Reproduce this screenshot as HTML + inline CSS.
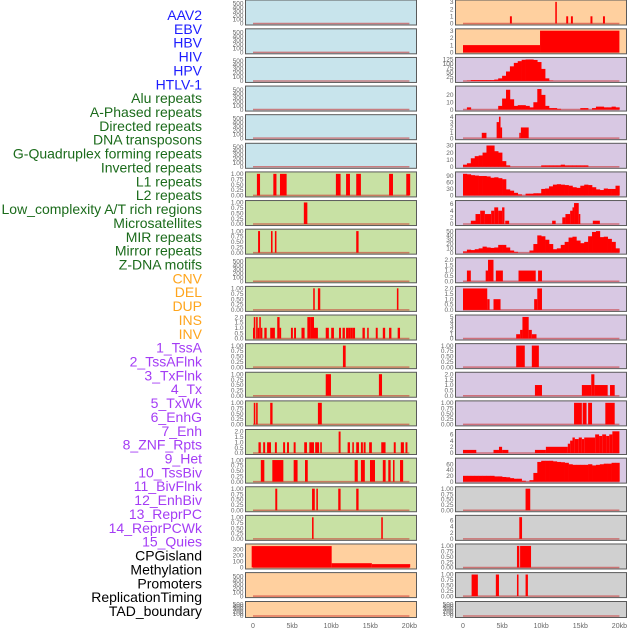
<!DOCTYPE html>
<html><head><meta charset="utf-8"><style>
body{margin:0;background:#fff;}
svg{display:block;font-family:"Liberation Sans",sans-serif;}
</style></head><body>
<svg id="chart" width="630" height="630" viewBox="0 0 630 630" xmlns="http://www.w3.org/2000/svg"></svg>
<script>
// ---- labels ----
const labelNames = ["AAV2","EBV","HBV","HIV","HPV","HTLV-1","Alu repeats","A-Phased repeats","Directed repeats","DNA transposons","G-Quadruplex forming repeats","Inverted repeats","L1 repeats","L2 repeats","Low_complexity A/T rich regions","Microsatellites","MIR repeats","Mirror repeats","Z-DNA motifs","CNV","DEL","DUP","INS","INV","1_TssA","2_TssAFlnk","3_TxFlnk","4_Tx","5_TxWk","6_EnhG","7_Enh","8_ZNF_Rpts","9_Het","10_TssBiv","11_BivFlnk","12_EnhBiv","13_ReprPC","14_ReprPCWk","15_Quies","CPGisland","Methylation","Promoters","ReplicationTiming","TAD_boundary"];
const labelGroups = [0,0,0,0,0,0,1,1,1,1,1,1,1,1,1,1,1,1,1,2,2,2,2,2,3,3,3,3,3,3,3,3,3,3,3,3,3,3,3,4,4,4,4,4];
const xTickValues = [0,5,10,15,20];
const xTickLabels = ["0","5kb","10kb","15kb","20kb"];

// ---- data: segments [startKb, endKb, value]; profiles are 0.5kb bins ----
const R0_bars = [[6.0,6.25,1],[11.8,12.0,3],[13.2,13.45,1],[13.8,14.05,1],[16.3,16.55,1],[17.9,18.15,1]];
const R1_bars = [[0,9.85,1],[9.85,20,3]];
const R2_vals = [0,2,5,5,5,5,5,5,8,15,30,55,85,105,115,123,125,125,122,110,70,15,2,0,0,0,0,0,0,0,0,0,0,0,0,0,0,0,0,0];
const R3_vals = [0,3,0,0,0,0,0,0,0,5,15,27,14,5,6,6,5,3,10,28,20,5,2,2,1,0,0,0,0,0,2,2,0,2,4,4,3,3,4,3];
const R4_bars = [[2.4,3.0,1],[4.3,4.6,3],[4.6,4.8,4],[4.8,5.0,2],[7.2,7.4,1],[7.4,8.4,2]];
const R5_vals = [3,5,12,15,16,20,30,30,22,20,8,2,0,0,0,0,0,0,0,0,2,2,2,2,2,3,2,2,2,2,2,2,0,0,0,0,0,0,0,0];
const R6L_bars = [[0.5,0.9,1],[2.6,3.0,1],[3.45,4.3,1],[10.6,11.2,1],[11.9,12.4,1],[13.2,13.8,1],[17.4,17.9,1],[19.6,20.1,1]];
const R6_vals = [100,98,94,92,90,90,88,82,84,80,75,28,22,12,5,0,8,8,10,10,30,32,42,50,52,50,48,45,38,35,45,50,48,38,28,25,32,30,30,45];
const R7L_bars = [[6.5,6.95,1]];
const R7_bars = [[1.0,1.6,1],[1.6,2.2,3],[2.2,2.8,4],[2.8,3.6,3],[3.6,4.0,4],[4.0,4.5,5],[4.5,5.0,4],[5.0,5.3,5],[5.4,5.9,1],[11.4,11.85,1],[12.7,13.1,2],[13.1,13.7,3],[13.7,14.0,4],[14.0,14.2,5],[14.2,14.8,6.3],[14.8,15.0,3],[16.6,17.5,1]];
const R8L_bars = [[0.65,0.9,1],[2.3,2.5,1],[2.8,3.0,1],[13.2,13.5,1]];
const R8_vals = [3,7,6,8,10,14,12,11,12,18,18,12,5,2,0,0,0,5,20,40,38,30,20,8,10,18,25,35,37,28,22,25,38,48,50,36,37,32,25,10];
const R9_bars = [[0.5,1.0,1],[2.9,3.2,1],[3.2,3.9,2],[4.2,5.1,1],[7.1,9.3,1],[9.6,10.1,1]];
const R10L_bars = [[7.7,7.9,1],[8.3,8.6,1],[18.4,18.6,1]];
const R10_bars = [[0,3.1,2],[3.1,3.4,1],[3.9,4.8,1],[9.1,9.5,1],[9.5,10.1,2]];
const R11L_bars = [[0,0.25,1],[0.1,0.3,2],[0.4,0.6,2],[0.6,0.8,1],[0.8,1.0,2],[1.0,1.2,1],[1.45,1.75,1],[2.2,2.8,1],[3.1,3.4,2],[3.4,3.6,1],[4.85,5.1,1],[5.25,5.5,1],[6.2,6.6,1],[6.95,7.4,2],[7.4,7.8,2],[7.8,8.3,1],[9.3,9.7,1],[10.0,10.35,1],[11.0,11.25,1],[11.45,11.75,1],[11.9,12.2,1],[12.2,12.5,1],[12.5,12.7,1],[12.7,13.05,1],[14.0,14.3,1],[14.6,14.8,1],[15.7,15.95,1],[16.6,16.9,1],[17.4,17.7,1],[18.5,18.8,1]];
const R11_bars = [[6.8,7.3,1],[7.3,7.6,2],[7.6,8.4,5],[8.4,8.8,2],[8.8,9.4,1]];
const R12L_bars = [[11.5,11.85,1]];
const R12_bars = [[6.8,7.9,1],[8.8,9.7,1]];
const R13L_bars = [[9.3,9.97,1],[16.1,16.5,1]];
const R13_bars = [[9.2,10.1,1],[15.2,16.4,1],[16.4,16.8,2],[16.8,18.5,1],[18.8,19.4,1]];
const R14L_bars = [[0.1,0.3,1],[0.4,0.6,1],[2.2,2.5,1],[8.3,8.8,1]];
const R14_bars = [[14.2,15.2,1],[15.3,15.8,1],[16.0,16.5,1],[18.2,19.4,1]];
const R15L_bars = [[0.7,1.0,1],[1.3,1.55,1],[1.8,2.3,1],[2.8,3.05,1],[3.85,4.1,1],[4.35,4.6,1],[5.2,5.45,1],[6.55,6.9,1],[7.2,7.8,1],[7.95,8.45,1],[8.6,8.8,1],[10.95,11.2,2],[12.1,12.4,1],[12.7,12.9,1],[13.2,13.55,1],[13.8,14.05,1],[14.15,14.4,1],[14.85,15.2,1],[16.4,16.95,1],[18.0,18.25,1],[18.9,19.3,1],[19.5,19.75,1]];
const R15_bars = [[0,1.7,1],[3.9,4.6,1],[4.6,5.0,2],[5.0,5.8,1],[9.2,10.6,1],[10.6,13.4,2],[13.4,13.7,3],[13.7,14.0,4],[14.0,14.3,5],[14.3,14.8,4.5],[14.8,15.2,5],[15.2,15.5,4.5],[15.5,16.9,5],[16.9,17.4,6],[17.4,17.8,5.5],[17.8,18.3,6],[18.3,18.7,5.5],[18.7,19.1,6],[19.1,20,7]];
const R16L_bars = [[1.0,1.45,1],[2.47,3.88,1],[5.2,5.7,1],[6.65,7.0,1],[13.0,13.4,1],[13.8,14.3,1],[14.96,15.6,1],[16.6,16.96,1],[17.3,17.6,1],[17.9,18.1,1],[18.8,19.2,1]];
const R16_vals = [20,20,20,20,20,20,20,20,18,18,16,15,12,10,10,3,0,5,30,68,72,72,72,70,68,67,65,60,58,58,58,58,60,56,58,60,62,62,65,65];
const R17L_bars = [[2.85,3.1,1],[7.55,7.9,1],[8.1,8.3,1],[10.9,11.2,1],[13.2,13.5,1]];
const R17_bars = [[8.0,8.6,1]];
const R18L_bars = [[7.55,7.75,1],[16.4,16.6,1]];
const R18_bars = [[7.2,7.55,7]];
const R19L_bars = [[-0.17,10.06,350],[10.06,15.2,70],[15.2,20.1,55]];
const R19_bars = [[6.9,7.2,1],[7.3,8.7,1]];
const R20_bars = [[1.1,1.9,1],[4.2,4.6,1],[6.9,7.1,1],[8.0,8.3,1]];

// ---- panel configuration ----
const BG = {blue:"#c8e4ec",green:"#c8e1a4",orange:"#ffd09f",purple:"#d8c8e3",gray:"#d0d0d0"};
const T500 = {max:550,ticks:[0,100,200,300,400,500],fmt:0};
const T1 = {max:1.02,ticks:[0,0.25,0.5,0.75,1],fmt:2};
const T2 = {max:2.05,ticks:[0,0.5,1,1.5,2],fmt:1};
function lp(row,bg,ax,bars,vals,name){return {row,col:0,bg,ax,bars,vals,name};}
function rp(row,bg,ax,bars,vals,name){return {row,col:1,bg,ax,bars,vals,name};}
const panels = [
 lp(0,"blue",T500,null,null,"aav2-track"), rp(0,"orange",{max:3.05,ticks:[0,1,2,3],fmt:0},R0_bars,null,"aav2-right-track"),
 lp(1,"blue",T500,null,null,"ebv-track"), rp(1,"orange",{max:3.05,ticks:[0,1,2,3],fmt:0},R1_bars,null,"ebv-right-track"),
 lp(2,"blue",T500,null,null,"hbv-track"), rp(2,"purple",{max:128,ticks:[0,25,50,75,100,125],fmt:0},null,R2_vals,"hbv-right-track"),
 lp(3,"blue",T500,null,null,"hiv-track"), rp(3,"purple",{max:30,ticks:[0,10,20],fmt:0},null,R3_vals,"hiv-right-track"),
 lp(4,"blue",T500,null,null,"hpv-track"), rp(4,"purple",{max:4.1,ticks:[0,1,2,3,4],fmt:0},R4_bars,null,"hpv-right-track"),
 lp(5,"blue",T500,null,null,"htlv-track"), rp(5,"purple",{max:31,ticks:[0,10,20,30],fmt:0},null,R5_vals,"htlv-right-track"),
 lp(6,"green",T1,R6L_bars,null,"alu-track"), rp(6,"purple",{max:102,ticks:[0,30,60,90],fmt:0},null,R6_vals,"alu-right-track"),
 lp(7,"green",T1,R7L_bars,null,"aphased-track"), rp(7,"purple",{max:6.6,ticks:[0,2,4,6],fmt:0},R7_bars,null,"aphased-right-track"),
 lp(8,"green",T1,R8L_bars,null,"directed-track"), rp(8,"purple",{max:51,ticks:[0,10,20,30,40,50],fmt:0},null,R8_vals,"directed-right-track"),
 lp(9,"green",T500,null,null,"dna-transposons-track"), rp(9,"purple",T2,R9_bars,null,"dna-transposons-right-track"),
 lp(10,"green",T1,R10L_bars,null,"gquad-track"), rp(10,"purple",T2,R10_bars,null,"gquad-right-track"),
 lp(11,"green",T2,R11L_bars,null,"inverted-track"), rp(11,"purple",{max:5.1,ticks:[0,1,2,3,4,5],fmt:0},R11_bars,null,"inverted-right-track"),
 lp(12,"green",T1,R12L_bars,null,"l1-track"), rp(12,"purple",T1,R12_bars,null,"l1-right-track"),
 lp(13,"green",T1,R13L_bars,null,"l2-track"), rp(13,"purple",T2,R13_bars,null,"l2-right-track"),
 lp(14,"green",T1,R14L_bars,null,"lowcomplex-track"), rp(14,"purple",T1,R14_bars,null,"lowcomplex-right-track"),
 lp(15,"green",T2,R15L_bars,null,"microsat-track"), rp(15,"purple",{max:7.1,ticks:[0,2,4,6],fmt:0},R15_bars,null,"microsat-right-track"),
 lp(16,"green",T1,R16L_bars,null,"mir-track"), rp(16,"purple",{max:76,ticks:[0,20,40,60],fmt:0},null,R16_vals,"mir-right-track"),
 lp(17,"green",T1,R17L_bars,null,"mirror-track"), rp(17,"gray",T1,R17_bars,null,"mirror-right-track"),
 lp(18,"green",T1,R18L_bars,null,"zdna-track"), rp(18,"gray",{max:7.1,ticks:[0,2,4,6],fmt:0},R18_bars,null,"zdna-right-track"),
 lp(19,"orange",{max:360,ticks:[0,100,200,300],fmt:0},R19L_bars,null,"cnv-track"), rp(19,"gray",T1,R19_bars,null,"cnv-right-track"),
 lp(20,"orange",T500,null,null,"del-track"), rp(20,"gray",T1,R20_bars,null,"del-right-track"),
 lp(21,"orange",T500,null,null,"dup-track"), rp(21,"gray",T500,null,null,"dup-right-track")
];

const NS="http://www.w3.org/2000/svg";
const svg=document.getElementById('chart');
function mk(tag,attrs,parent){const e=document.createElementNS(NS,tag);for(const k in attrs)e.setAttribute(k,attrs[k]);(parent||svg).appendChild(e);return e;}
const GROUP_COL=["#1c1cff","#1b6b1b","#ffa51c","#a43cf5","#000000"];

// labels
labelNames.forEach((n,i)=>{
  const t=mk('text',{x:202,y:(15+i*13.86+5).toFixed(1),'text-anchor':'end','font-size':'14',fill:GROUP_COL[labelGroups[i]]});
  t.textContent=n;
  
  
});

function xs(col,kb){return (col?463:253)+kb*7.82;}
function panelBox(row){ if(row===21) return {top:601.5,h:16}; return {top:row===0?0:row*28.62+0.2,h:25}; }

panels.forEach(p=>{
  const b=panelBox(p.row);
  const left=p.col?455.5:245.5, w=171;
  const g=mk('g',{});
  
  
  const bg=mk('rect',{x:left,y:b.top,width:w,height:b.h,fill:BG[p.bg],stroke:'none'},g);
  
  
  const yb=b.top+b.h-1.5, yt=b.top+1.5;
  const ys=v=>yb-(v/p.ax.max)*(yb-yt);
  // ticks
  p.ax.ticks.forEach(tv=>{
    const t=mk('text',{x:left-2,y:(ys(tv)+2.2).toFixed(1),'text-anchor':'end','font-size':'6.5',fill:'#666'},g);
    t.textContent=tv.toFixed(p.ax.fmt);
    
    
  });
  // baseline
  const bl=mk('line',{x1:xs(p.col,0),x2:xs(p.col,20),y1:yb,y2:yb,stroke:'rgba(200,40,40,0.55)','stroke-width':1.5},g);
  
  
  if(p.bars){
    p.bars.forEach(s=>{
      const x1=xs(p.col,s[0]),x2=xs(p.col,s[1]);
      const r=mk('rect',{x:x1.toFixed(2),y:ys(s[2]).toFixed(2),width:Math.max(1,x2-x1).toFixed(2),height:(yb-ys(s[2])).toFixed(2),fill:'#ff0000'},g);
      
      
    });
  }
  if(p.vals){
    p.vals.forEach((v,i)=>{
      if(v<=0) return;
      const x1=xs(p.col,i*0.5),x2=xs(p.col,i*0.5+0.5);
      const r=mk('rect',{x:x1.toFixed(2),y:ys(v).toFixed(2),width:(x2-x1+0.3).toFixed(2),height:(yb-ys(v)).toFixed(2),fill:'#ff0000'},g);
      
      
    });
  }
  const fr=mk('rect',{x:left,y:b.top,width:w,height:b.h,fill:'none',stroke:'#5a5a5a','stroke-width':1},g);
  
  
});

// x axes
[0,1].forEach(col=>{
  xTickValues.forEach((v,i)=>{
    const t=mk('text',{x:xs(col,v).toFixed(1),y:628,'text-anchor':'middle','font-size':'7',fill:'#666'});
    t.textContent=xTickLabels[i];
    
    
  });
});
</script>
</body></html>
